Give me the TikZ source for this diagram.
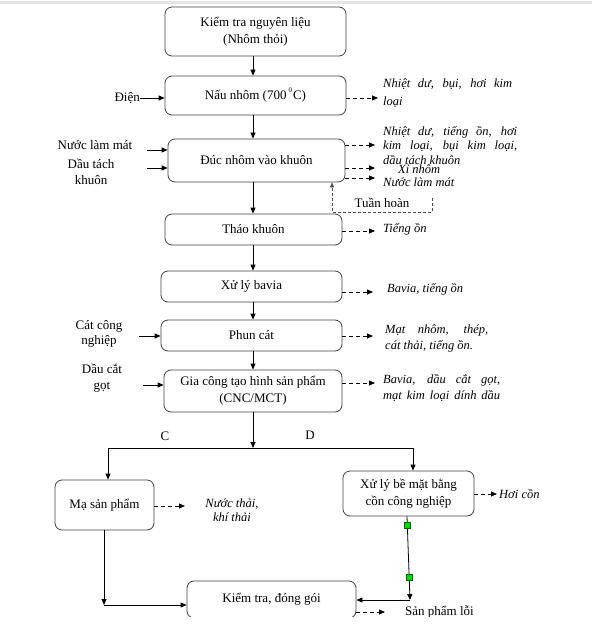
\documentclass[tikz,border=0pt]{standalone}
\usepackage{fontspec}
\setmainfont{Liberation Serif}
\usetikzlibrary{arrows.meta}
\begin{document}
\begin{tikzpicture}[x=1pt,y=-1pt,
  box/.style={draw=black!75, line width=0.8pt, rounded corners=7pt, align=center,
    font=\fontsize{13}{17}\selectfont, inner sep=0pt},
  arr/.style={-{Triangle[length=6pt,width=5pt]}, line width=0.8pt},
  darr/.style={arr, dash pattern=on 4pt off 3pt},
  tarr/.style={-{Triangle[length=5pt,width=4pt]}, line width=0.5pt, black!70, dash pattern=on 3pt off 2pt},
  note/.style={font=\itshape\fontsize{12.5}{14.5}\selectfont, anchor=west, align=left, inner sep=0pt},
  lbl/.style={font=\fontsize{13}{16}\selectfont, align=center, inner sep=0pt},
  gsq/.style={draw=green!40!black, fill=green!85!black, line width=0.3pt, minimum size=6pt, inner sep=0pt}
]
\useasboundingbox (0,0) rectangle (592,631);
\fill[black!10] (0,1.5) rectangle (592,4.5);

% boxes
\node[box, minimum width=181pt, minimum height=49pt] (b1) at (255.5,31.5) {Kiểm tra nguyên liệu\\(Nhôm thỏi)};
\node[box, minimum width=181pt, minimum height=39pt] (b2) at (255.5,95.5) {Nấu nhôm (700\hspace{2pt}\raisebox{7pt}{\fontsize{7}{7}\selectfont 0}\hspace{1pt}C)};
\node[box, minimum width=177pt, minimum height=43pt] (b3) at (256.5,160.5) {Đúc nhôm vào khuôn};
\node[box, minimum width=177pt, minimum height=31pt] (b4) at (253.5,229.5) {Tháo khuôn};
\node[box, minimum width=181pt, minimum height=31pt] (b5) at (251.5,286.5) {Xử lý bavia};
\node[box, minimum width=181pt, minimum height=31pt] (b6) at (251.5,335.5) {Phun cát};
\node[box, minimum width=178pt, minimum height=42pt] (b7) at (253,391) {Gia công tạo hình sản phẩm\\(CNC/MCT)};
\node[box, minimum width=99pt, minimum height=50pt] (b8) at (104.5,505) {Mạ sản phẩm};
\node[box, minimum width=131pt, minimum height=45pt] (b9) at (408.5,493.5) {Xử lý bề mặt bằng\\cồn công nghiệp};
\node[box, minimum width=169pt, minimum height=37pt] (b10) at (271.5,599.5) {Kiểm tra, đóng gói};

% main flow
\coordinate (mx) at (253,0);
\foreach \a/\b in {b1/b2,b2/b3,b3/b4,b4/b5,b5/b6,b6/b7}
  \draw[arr] (\a.south -| mx) -- (\b.north -| mx);
\coordinate (j) at (253,448);
\coordinate (jl) at (108,448);
\coordinate (jr) at (413,448);
\draw[arr] (b7.south -| mx) -- (j);
\draw[line width=0.8pt] (jl) -- (jr);
\draw[arr] (jl) -- (b8.north -| jl);
\draw[arr] (jr) -- (b9.north -| jr);
\node[lbl] (lc) at (165,436) {C};
\node[lbl] (ld) at (310,435) {D};

% inputs
\node[lbl, anchor=east] (dien) at (140,98) {Điện};
\draw[arr] (dien.east) -- (b2.west |- dien.east);
\node[lbl] (nlm) at (95,145) {Nước làm mát};
\coordinate (i1) at (147,150);
\draw[arr] (i1) -- (b3.west |- i1);
\node[lbl] (dtk) at (91,171.5) {Dầu tách\\khuôn};
\coordinate (i2) at (147,168);
\draw[arr] (i2) -- (b3.west |- i2);
\node[lbl, font=\fontsize{13}{15}\selectfont] (ccn) at (99,333.5) {Cát công\\nghiệp};
\coordinate (i3) at (139,336);
\draw[arr] (i3) -- (b6.west |- i3);
\node[lbl] (dcg) at (102,378) {Dầu cắt\\gọt};
\coordinate (i4) at (143,385);
\draw[arr] (i4) -- (b7.west |- i4);

% outputs
\coordinate (o2) at (378,98);
\draw[darr] (b2.east |- o2) -- (o2);
\node[note, font=\itshape\fontsize{12.5}{18}\selectfont] (n2) at (383,93) {\makebox[129pt][s]{Nhiệt dư, bụi, hơi kim}\\loại};

\coordinate (o3a) at (375,145);
\coordinate (o3b) at (375,168);
\coordinate (o3c) at (375,178);
\draw[darr] (b3.east |- o3a) -- (o3a);
\draw[darr] (b3.east |- o3b) -- (o3b);
\draw[darr] (b3.east |- o3c) -- (o3c);
\node[note] (n3a) at (383,145.5) {\makebox[134pt][s]{Nhiệt dư, tiếng ồn, hơi}\\\makebox[134pt][s]{kim loại, bụi kim loại,}\\dầu tách khuôn};
\node[note] (n3b) at (398,169) {Xỉ nhôm};
\node[note] (n3c) at (383,182) {Nước làm mát};

% recirculation
\coordinate (t0) at (432,198);
\coordinate (t1) at (332,212);
\draw[tarr] (t0) |- (t1) -- (b3.south -| t1);
\node[lbl] (th) at (382,203) {Tuần hoàn};

\coordinate (o4) at (375,231);
\draw[darr] (b4.east |- o4) -- (o4);
\node[note] (n4) at (383,229) {Tiếng ồn};

\coordinate (o5) at (373,292);
\draw[darr] (b5.east |- o5) -- (o5);
\node[note] (n5) at (387,289) {Bavia, tiếng ồn};

\coordinate (o6) at (373,336);
\draw[darr] (b6.east |- o6) -- (o6);
\node[note, font=\itshape\fontsize{12.5}{16}\selectfont] (n6) at (385,338) {\makebox[103pt][s]{Mạt nhôm, thép,}\\cát thải, tiếng ồn.};

\coordinate (o7) at (375,383);
\draw[darr] (b7.east |- o7) -- (o7);
\node[note, font=\itshape\fontsize{12.5}{16}\selectfont] (n7) at (383,388) {\makebox[117pt][s]{Bavia, dầu cắt gọt,}\\\makebox[117pt][s]{mạt kim loại dính dầu}};

\coordinate (o8) at (185,506);
\draw[darr] (b8.east |- o8) -- (o8);
\node[note, anchor=center, align=center] (n8) at (232,510) {Nước thải,\\khí thải};

\coordinate (o9) at (497,494);
\draw[darr] (b9.east |- o9) -- (o9);
\node[note] (n9) at (499,494) {Hơi cồn};

\coordinate (o10) at (385,612);
\draw[darr] (b10.east |- o10) -- (o10);
\node[lbl, anchor=west] (n10) at (405,612) {Sản phẩm lỗi};

% bottom connections
\coordinate (m1) at (104,605);
\draw[arr] (b8.south -| m1) -- (m1);
\draw[arr] (m1) -- (b10.west |- m1);
\coordinate (r0) at (407,516);
\coordinate (r1) at (410,600);
\draw[arr] (b9.south -| r0) -- (r1);
\draw[arr] (r1) -- (b10.east |- r1);
\node[gsq] (g1) at (407.5,525) {};
\node[gsq] (g2) at (409.6,577) {};

\fill[white] (0,617) rectangle (592,631);
\end{tikzpicture}
\end{document}
